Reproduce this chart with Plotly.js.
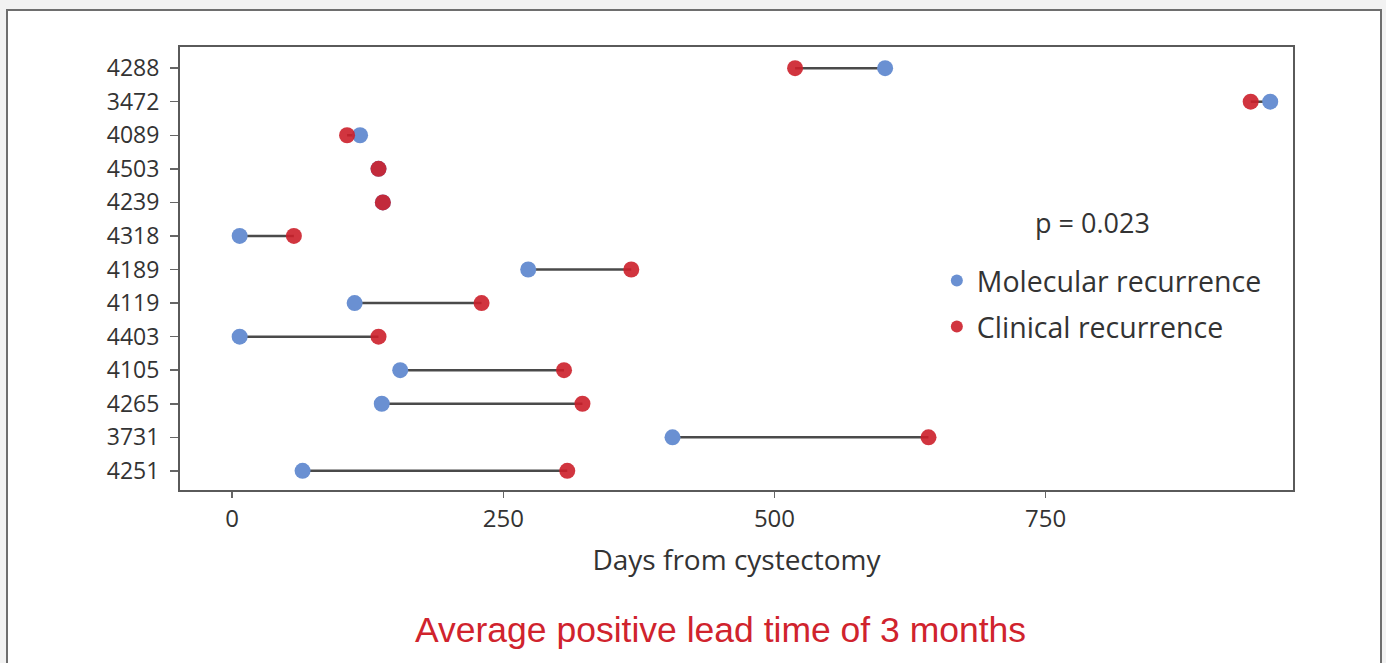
<!DOCTYPE html>
<html>
<head>
<meta charset="utf-8">
<script src="https://cdn.plot.ly/plotly-3.0.1.min.js"></script>
<style>
  html, body { margin: 0; padding: 0; background: #f2f2f2; width: 1386px; height: 663px; overflow: hidden; }
  #frame { position: absolute; left: 6px; top: 9px; width: 1372px; height: 700px; border: 2px solid #6e6e6e; background: #ffffff; }
  #chart { position: absolute; left: 0; top: 0; width: 1386px; height: 663px; }
</style>
</head>
<body>
<div id="frame"></div>
<div id="chart"></div>
<script>
// Patient IDs, top to bottom
const patients = ["4288", "3472", "4089", "4503", "4239", "4318", "4189", "4119", "4403", "4105", "4265", "3731", "4251"];
// Days from cystectomy
const molecular = [602, 957, 118, 135, 139, 7, 273, 113, 7, 155, 138, 406, 65];
const clinical  = [519, 939, 106, 135, 139, 57, 368, 230, 135, 306, 323, 642, 309];
const xTicks = [0, 250, 500, 750];

// connecting segments built from the data
const segX = [], segY = [];
patients.forEach((p, i) => {
  segX.push(molecular[i], clinical[i], null);
  segY.push(p, p, null);
});

const fontFam = '"Open Sans", "Noto Sans", sans-serif';

const traces = [
  {
    x: segX, y: segY, type: 'scatter', mode: 'lines',
    line: { color: '#4a4a4a', width: 2.5 },
    showlegend: false, hoverinfo: 'skip'
  },
  {
    x: molecular, y: patients, type: 'scatter', mode: 'markers',
    name: 'Molecular recurrence', legendgroup: 'm',
    marker: { color: '#6a90d2', size: 16 }
  },
  {
    x: clinical, y: patients, type: 'scatter', mode: 'markers',
    name: 'Clinical recurrence', legendgroup: 'c',
    marker: { color: '#cc1f2a', size: 16, opacity: 0.9 }
  }
];

const layout = {
  width: 1386, height: 663,
  paper_bgcolor: 'rgba(0,0,0,0)',
  plot_bgcolor: '#ffffff',
  margin: { l: 180, r: 93, t: 47, b: 173 },
  font: { family: fontFam, color: '#333333' },
  xaxis: {
    range: [-48, 978],
    tickvals: xTicks,
    ticktext: xTicks.map(String),
    ticks: 'outside', ticklen: 6, tickwidth: 1.5, tickcolor: '#666',
    tickfont: { size: 24, color: '#333' },
    showgrid: false, zeroline: false,
    showline: true, linecolor: '#5a5a5a', linewidth: 2, mirror: true,
    title: { text: 'Days from cystectomy', font: { size: 28, color: '#333' }, standoff: 18 }
  },
  yaxis: {
    type: 'category',
    categoryorder: 'array', categoryarray: patients,
    range: [12.57, -0.63],
    ticks: 'outside', ticklen: 8, tickwidth: 1.5, tickcolor: '#666',
    ticklabelstandoff: 6,
    tickfont: { size: 23, color: '#333' },
    showgrid: false, zeroline: false,
    showline: true, linecolor: '#5a5a5a', linewidth: 2, mirror: true
  },
  showlegend: true,
  legend: {
    x: 0.680, y: 0.42, xanchor: 'left', yanchor: 'middle',
    bgcolor: 'rgba(0,0,0,0)',
    font: { size: 28.5, color: '#333' },
    itemsizing: 'constant',
    tracegroupgap: 6,
    traceorder: 'grouped'
  },
  annotations: [
    {
      text: 'p = 0.023', xref: 'paper', yref: 'paper',
      x: (1092 - 180) / 1113, y: (490 - 222) / 443,
      xanchor: 'center', yanchor: 'middle', showarrow: false,
      font: { size: 27, color: '#333', family: fontFam }
    },
    {
      text: 'Average positive lead time of 3 months', xref: 'paper', yref: 'paper',
      x: (720 - 180) / 1113, y: (490 - 630) / 443,
      xanchor: 'center', yanchor: 'middle', showarrow: false,
      font: { size: 35.5, color: '#d0232d', family: '"Liberation Sans", Arial, sans-serif' }
    }
  ]
};

Plotly.newPlot('chart', traces, layout, { displayModeBar: false, staticPlot: true });
</script>
</body>
</html>
